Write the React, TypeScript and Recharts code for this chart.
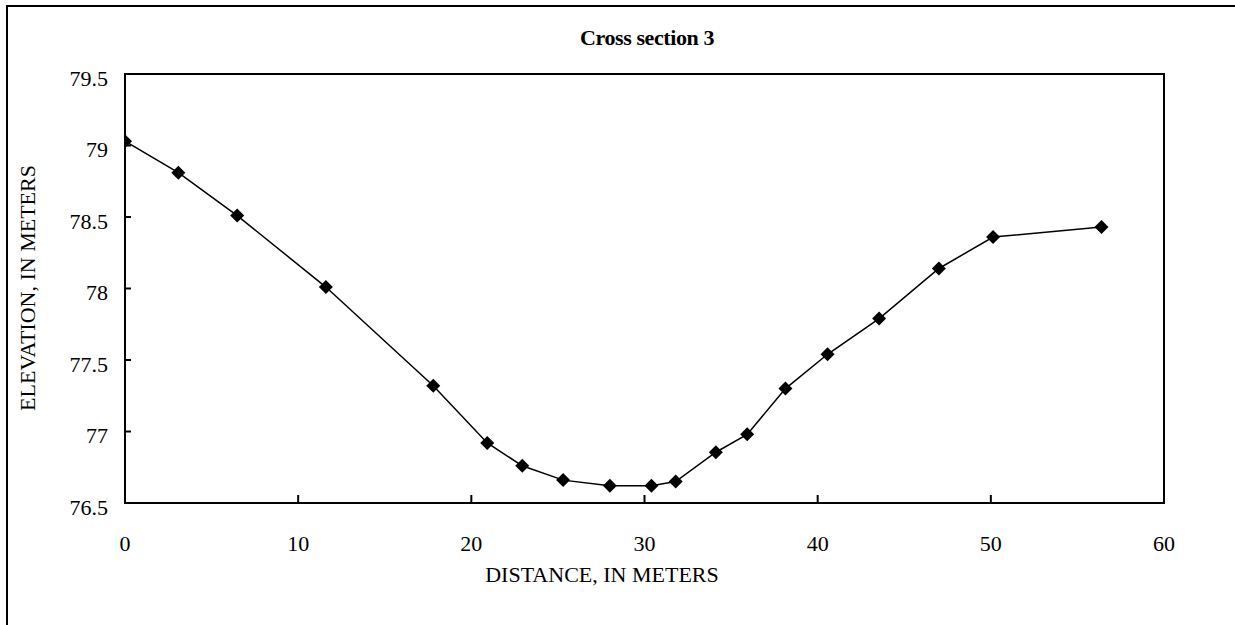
import React from "react";
import { LineChart, Line, XAxis, YAxis, ReferenceArea } from "recharts";

const distances = [0, 3.08, 6.48, 11.6, 17.8, 20.92, 22.94, 25.3, 28.0, 30.4, 31.8, 34.12, 35.93, 38.14, 40.57, 43.55, 47.0, 50.13, 56.39];
const elevations = [79.03, 78.81, 78.51, 78.01, 77.32, 76.92, 76.76, 76.66, 76.62, 76.62, 76.65, 76.855, 76.98, 77.3, 77.54, 77.79, 78.14, 78.36, 78.43];
const xTicks = [0, 10, 20, 30, 40, 50, 60];
const yTicks = [76.5, 77, 77.5, 78, 78.5, 79, 79.5];
const title = "Cross section 3";
const xLabel = "DISTANCE, IN METERS";
const yLabel = "ELEVATION, IN METERS";

const data = distances.map((d, i) => ({ x: d, y: elevations[i] }));

const FONT = '"Liberation Serif", "Times New Roman", serif';

const XTick = (props: any) => {
  const { x, y, payload } = props;
  return (
    <g>
      <line x1={x} y1={y} x2={x} y2={y - 8} stroke="#000" strokeWidth={2} />
      <text x={x} y={y + 40} textAnchor="middle" dominantBaseline="central" fontFamily={FONT} fontSize={22} fill="#000">
        {payload.value}
      </text>
    </g>
  );
};

const YTick = (props: any) => {
  const { x, y, payload } = props;
  return (
    <g>
      <line x1={x} y1={y} x2={x + 6} y2={y} stroke="#000" strokeWidth={2} />
      <text x={x - 17} y={y + 4} textAnchor="end" dominantBaseline="central" fontFamily={FONT} fontSize={22} fill="#000">
        {payload.value}
      </text>
    </g>
  );
};

const Diamond = (props: any) => {
  const { cx, cy } = props;
  if (cx == null || cy == null) return null;
  const r = 7;
  return <polygon points={`${cx},${cy - r} ${cx + r},${cy} ${cx},${cy + r} ${cx - r},${cy}`} fill="#000" stroke="none" />;
};

export default function App() {
  return (
    <div style={{ position: "absolute", left: 0, top: 0, width: 1235, height: 625, overflow: "hidden", background: "#fff", fontFamily: FONT }}>
      <div style={{ position: "absolute", left: 6, top: 5, width: 1400, height: 800, borderTop: "2px solid #000", borderLeft: "2px solid #000" }} />
      <div style={{ position: "absolute", left: 347, top: 23, width: 600, height: 30, lineHeight: "30px", textAlign: "center", fontWeight: "bold", fontSize: 22, letterSpacing: -0.4, color: "#000" }}>
        {title}
      </div>
      <div style={{ position: "absolute", left: 402, top: 560, width: 400, height: 30, lineHeight: "30px", textAlign: "center", fontSize: 22, color: "#000" }}>
        {xLabel}
      </div>
      <div style={{ position: "absolute", left: 28 - 200, top: 288 - 15, width: 400, height: 30, lineHeight: "30px", textAlign: "center", fontSize: 22, color: "#000", transform: "rotate(-90deg)" }}>
        {yLabel}
      </div>
      <div style={{ position: "absolute", left: 0, top: 0 }}>
        <LineChart width={1235} height={625} data={data} margin={{ top: 74, right: 71, bottom: 72, left: 65 }}>
          <XAxis
            type="number"
            dataKey="x"
            domain={[0, 60]}
            ticks={xTicks}
            height={50}
            tickSize={0}
            tickMargin={0}
            axisLine={false}
            tick={<XTick />}
            interval={0}
            allowDataOverflow
          />
          <YAxis
            type="number"
            domain={[76.5, 79.5]}
            ticks={yTicks}
            width={60}
            tickSize={0}
            tickMargin={0}
            axisLine={false}
            tick={<YTick />}
            interval={0}
            allowDataOverflow
          />
          <ReferenceArea x1={0} x2={60} y1={76.5} y2={79.5} fill="none" fillOpacity={0} stroke="#000" strokeWidth={2} ifOverflow="visible" />
          <Line
            type="linear"
            dataKey="y"
            stroke="#000"
            strokeWidth={1.5}
            dot={<Diamond />}
            activeDot={false}
            isAnimationActive={false}
          />
        </LineChart>
      </div>
    </div>
  );
}
